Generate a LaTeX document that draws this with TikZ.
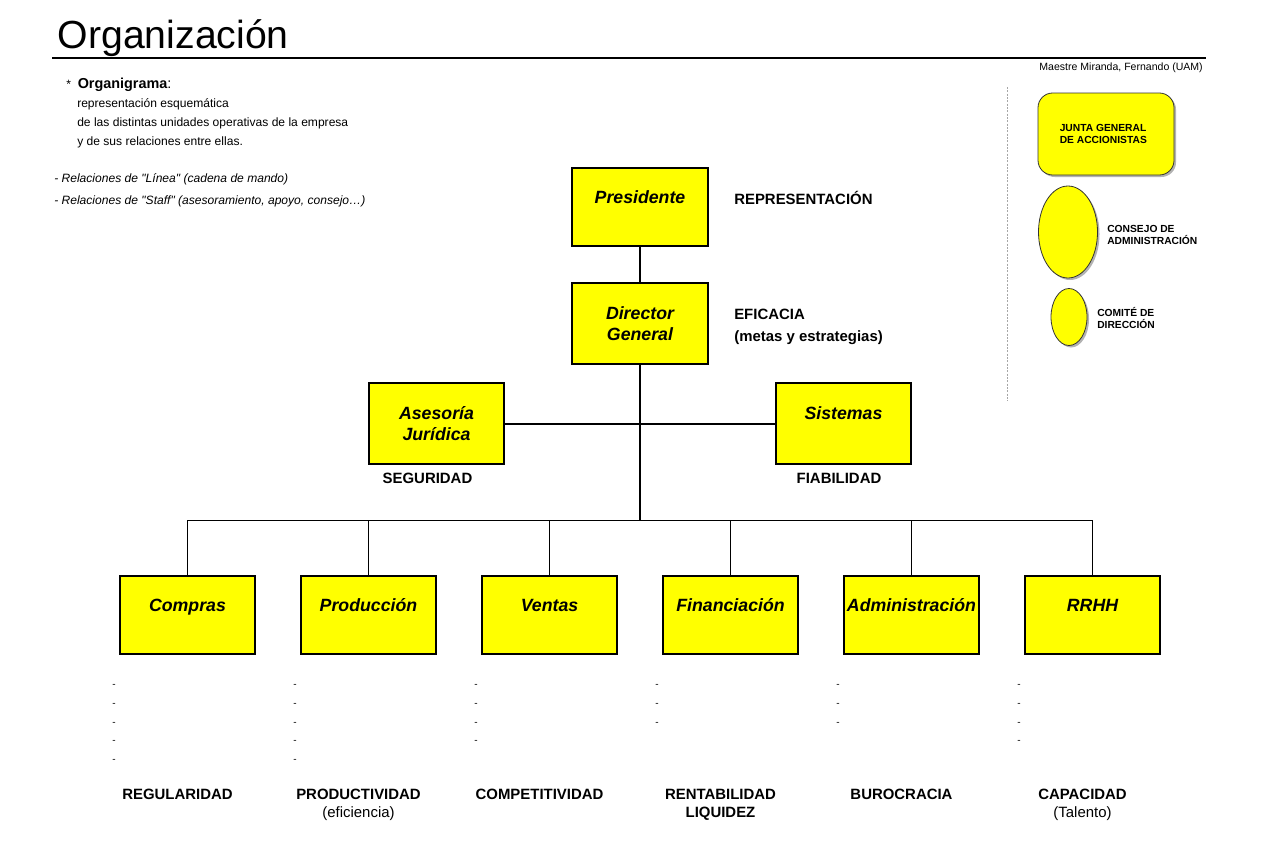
\documentclass[tikz,border=0pt]{standalone}
\usepackage{fontspec}
\setmainfont{Liberation Sans}
\newfontfamily\relfont{Liberation Sans}
\usetikzlibrary{shadows,shapes.geometric}
\definecolor{ybox}{RGB}{255,255,0}
\begin{document}
\begin{tikzpicture}[x=0.75pt,y=-0.75pt,
  box/.style={draw=black, line width=0.8pt, fill=ybox, inner sep=0pt, minimum width=101.25pt, minimum height=58.5pt},
  topbox/.style={box, minimum width=102pt, drop shadow={shadow xshift=0.6pt, shadow yshift=-0.6pt, fill=black, opacity=1}},
  bl/.style={font=\fontsize{13.3}{15.8}\selectfont\bfseries\itshape, align=center, inner sep=0pt},
  capb/.style={font=\fontsize{11.2}{14}\selectfont\bfseries, inner sep=0pt},
  capn/.style={font=\fontsize{11.2}{14}\selectfont, inner sep=0pt},
  body/.style={font=\fontsize{9.05}{11}\selectfont, inner sep=0pt, anchor=base west},
  rel/.style={font=\relfont\fontsize{9.05}{11}\selectfont\itshape, inner sep=0pt, anchor=base west},
  small/.style={font=\fontsize{7.7}{9}\selectfont\bfseries, inner sep=0pt, align=left, anchor=west},
  dsh/.style={font=\fontsize{7.5}{8}\selectfont, inner sep=0pt},
  thickline/.style={line width=1.5pt},
  thinline/.style={line width=0.75pt},
  yshadow/.style={drop shadow={shadow xshift=1.5pt, shadow yshift=-1.5pt, opacity=0.3, fill=black}},
]
\useasboundingbox (0,0) rectangle (1262,860);

% header
\node[anchor=base west, inner sep=0pt, font=\fontsize{29.4}{34}\selectfont] (title) at (57.5,48) {Organización};
\coordinate (hl) at (52,58);
\coordinate (hr) at (1206,58);
\draw[line width=1.6pt] (hl) -- (hr);
\node[anchor=base east, inner sep=0pt, font=\fontsize{7.9}{9}\selectfont] (author) at (1203,70) {Maestre Miranda, Fernando (UAM)};

% intro text
\node[body] (star) at (66,88) {*};
\node[anchor=base west, inner sep=0pt, font=\fontsize{10.8}{13}\selectfont] (orgn) at (77.5,88) {\textbf{Organigrama}:};
\node[body] (t1) at (77,107) {representación esquemática};
\node[body] (t2) at (77,126) {de las distintas unidades operativas de la empresa};
\node[body] (t3) at (77,145) {y de sus relaciones entre ellas.};
\node[rel] (r1) at (54,182) {- Relaciones de "Línea" (cadena de mando)};
\node[rel] (r2) at (54,204) {- Relaciones de "Staff" (asesoramiento, apoyo, consejo…)};

% top boxes
\node[topbox] (pres) at (640,207) {};
\node[bl, anchor=base] (presT) at (640,203) {Presidente};
\node[topbox, minimum height=60.75pt] (dir) at (640,323.5) {};
\node[bl] (dirT) at (640,323.5) {Director\\General};

\node[capb, anchor=base west] (repr) at (734,204) {REPRESENTACIÓN};
\node[capb, anchor=base west] (efic) at (734,319) {EFICACIA};
\node[capb, anchor=base west] (metas) at (734,341) {(metas y estrategias)};

% staff
\node[box, minimum height=60.75pt] (ases) at (436.5,423.5) {};
\node[bl] (asesT) at (436.5,423.5) {Asesoría\\Jurídica};
\node[box, minimum height=60.75pt] (sist) at (843.5,423.5) {};
\node[bl, anchor=base] (sistT) at (843.5,419) {Sistemas};
\node[capb, anchor=base] (segur) at (427.5,483) {SEGURIDAD};
\node[capb, anchor=base] (fiab) at (839,483) {FIABILIDAD};

% line boxes
\foreach \n/\x/\t in {compras/187.5/Compras, produccion/368.5/Producción, ventas/549.5/Ventas, financiacion/730.5/Financiación, administracion/911.5/Administración, rrhh/1092.5/RRHH}{
  \node[box] (\n) at (\x,615) {};
  \node[bl, anchor=base] (\n T) at (\x,611.5) {\t};
}

% connectors
\coordinate (bus) at (640,520);
\draw[thickline] (pres.south) -- (dir.north);
\draw[thickline] (dir.south) -- (bus);
\draw[thickline] (ases.east) -- (sist.west);
\draw[thinline] (compras.north |- bus) -- (rrhh.north |- bus);
\foreach \n in {compras,produccion,ventas,financiacion,administracion,rrhh}{
  \draw[thinline] (\n.north |- bus) -- (\n.north);
}

% dashes
\foreach \x/\k in {114/5, 295/5, 476/4, 657/3, 838/3, 1019/4}{
  \foreach \i in {1,...,\k}{
    \node[dsh] (d\x-\i) at (\x, {686+18.75*(\i-1)}) {-};
  }
}

% bottom labels
\node[capb, anchor=base] (l1) at (177.5,799.5) {REGULARIDAD};
\node[capb, anchor=base] (l2) at (358.5,799.5) {PRODUCTIVIDAD};
\node[capn, anchor=base] (l2b) at (358.5,817.5) {(eficiencia)};
\node[capb, anchor=base] (l3) at (539.5,799.5) {COMPETITIVIDAD};
\node[capb, anchor=base] (l4) at (720.5,799.5) {RENTABILIDAD};
\node[capb, anchor=base] (l4b) at (720.5,817.5) {LIQUIDEZ};
\node[capb, anchor=base] (l5) at (901.5,799.5) {BUROCRACIA};
\node[capb, anchor=base] (l6) at (1082.5,799.5) {CAPACIDAD};
\node[capn, anchor=base] (l6b) at (1082.5,817.5) {(Talento)};

% right panel
\coordinate (vt) at (1007,87);
\coordinate (vb) at (1007,401);
\draw[gray!70, line width=0.6pt, dash pattern=on 1.5pt off 1pt] (vt) -- (vb);
\node[draw=black!80, line width=0.6pt, fill=ybox, rounded corners=11pt, inner sep=0pt, minimum width=102pt, minimum height=61.5pt, yshadow] (junta) at (1106,134) {};
\node[small] (juntaT) at (1059.5,134) {JUNTA GENERAL\\DE ACCIONISTAS};
\node[ellipse, draw=black!80, line width=0.6pt, fill=ybox, inner sep=0pt, minimum width=44.25pt, minimum height=69pt, yshadow] (consejo) at (1068,232) {};
\node[small] (consejoT) at (1107,235) {CONSEJO DE\\ADMINISTRACIÓN};
\node[ellipse, draw=black!80, line width=0.6pt, fill=ybox, inner sep=0pt, minimum width=27pt, minimum height=42.75pt, yshadow] (comite) at (1069,317) {};
\node[small] (comiteT) at (1097,318) {COMITÉ DE\\DIRECCIÓN};
\end{tikzpicture}
\end{document}
